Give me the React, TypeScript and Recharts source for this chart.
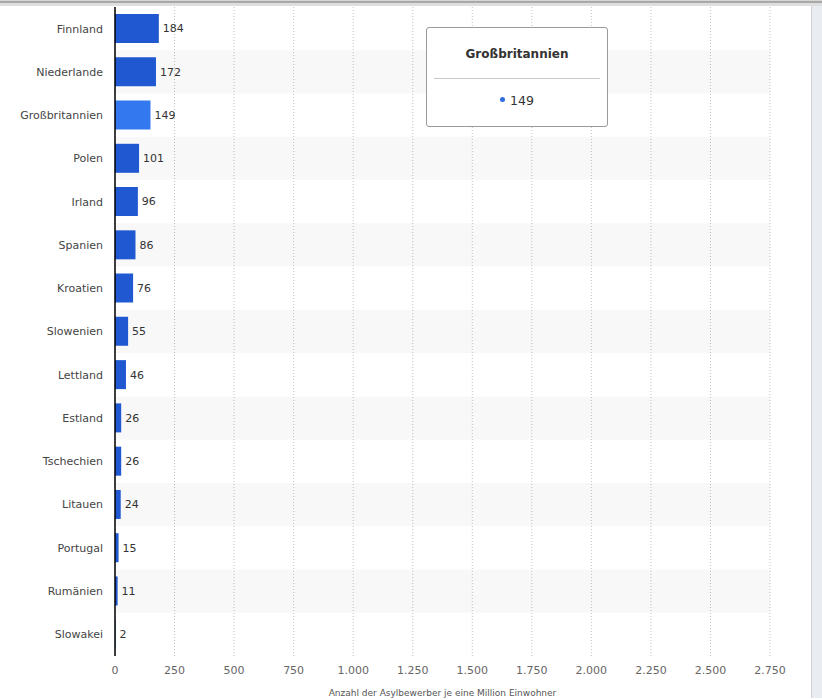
import {
  Bar,
  BarChart,
  CartesianGrid,
  Cell,
  LabelList,
  ReferenceArea,
  Tooltip,
  XAxis,
  YAxis,
} from 'recharts';

const countries = [
  'Finnland',
  'Niederlande',
  'Großbritannien',
  'Polen',
  'Irland',
  'Spanien',
  'Kroatien',
  'Slowenien',
  'Lettland',
  'Estland',
  'Tschechien',
  'Litauen',
  'Portugal',
  'Rumänien',
  'Slowakei',
];

const applicants = [184, 172, 149, 101, 96, 86, 76, 55, 46, 26, 26, 24, 15, 11, 2];

const xTicks = [0, 250, 500, 750, 1000, 1250, 1500, 1750, 2000, 2250, 2500, 2750];

const highlighted = 'Großbritannien';

const data = countries.map((name, i) => ({ name, value: applicants[i] }));

const font = '"DejaVu Sans", Verdana, sans-serif';

const fmt = (v: number) => v.toLocaleString('de-DE');

const TooltipBox = (props: any) => {
  const entry = props.payload && props.payload.length ? props.payload[0].payload : data[2];
  return (
    <div
      style={{
        width: 180,
        height: 98,
        background: '#fff',
        border: '1px solid #9a9a9a',
        borderRadius: 3,
        fontFamily: font,
        color: '#333',
        boxSizing: 'content-box',
      }}
    >
      <div
        style={{
          fontWeight: 'bold',
          fontSize: 12,
          textAlign: 'center',
          paddingTop: 19,
          height: 31,
        }}
      >
        {entry.name}
      </div>
      <div style={{ borderTop: '1px solid #c8c8c8', margin: '0 7px' }} />
      <div style={{ textAlign: 'center', fontSize: 12.5, paddingTop: 14 }}>
        <span
          style={{
            display: 'inline-block',
            width: 5,
            height: 5,
            borderRadius: '50%',
            background: '#2f6fe0',
            marginRight: 5,
            verticalAlign: 'middle',
            position: 'relative',
            top: -2,
          }}
        />
        {fmt(entry.value)}
      </div>
    </div>
  );
};

const App = () => {
  return (
    <div style={{ position: 'absolute', left: 0, top: 0, width: 822, height: 700, background: '#fff' }}>
      <div style={{ position: 'absolute', left: 0, top: 0, width: 822, height: 1, background: '#d6d6d6' }} />
      <div style={{ position: 'absolute', left: 0, top: 1, width: 822, height: 2, background: '#a8a8a8' }} />
      <div style={{ position: 'absolute', left: 0, top: 3, width: 822, height: 3, background: '#dedede' }} />
      <div
        style={{
          position: 'absolute',
          left: 811,
          top: 6,
          width: 11,
          height: 692,
          background: '#e9edf1',
          borderLeft: '1px solid #cfd3d8',
          boxSizing: 'border-box',
        }}
      />
      <BarChart
        width={822}
        height={700}
        data={data}
        layout="vertical"
        margin={{ top: 7, right: 52, bottom: 0, left: 0 }}
        style={{ fontFamily: font }}
      >
        {countries.map((c, i) =>
          i % 2 === 1 ? (
            <ReferenceArea
              key={c}
              y1={c}
              y2={c}
              x1={0}
              x2={2750}
              fill="#000"
              fillOpacity={0.028}
              stroke="none"
            />
          ) : null
        )}
        <CartesianGrid horizontal={false} stroke="#c4c4c4" strokeDasharray="1 2" />
        <XAxis
          type="number"
          domain={[0, 2750]}
          ticks={xTicks}
          tickFormatter={fmt}
          axisLine={false}
          tickLine={false}
          tickSize={0}
          tickMargin={10}
          height={44}
          tick={{ fill: '#666', fontSize: 11 }}
          label={{
            value: 'Anzahl der Asylbewerber je eine Million Einwohner',
            position: 'insideBottom',
            offset: 4,
            fill: '#555',
            fontSize: 9,
          }}
        />
        <YAxis
          type="category"
          dataKey="name"
          width={115}
          axisLine={{ stroke: '#000', strokeWidth: 1.5 }}
          tickLine={false}
          tickSize={0}
          tickMargin={12}
          interval={0}
          tick={{ fill: '#444', fontSize: 11 }}
        />
        <Tooltip
          defaultIndex={2}
          active
          cursor={false}
          isAnimationActive={false}
          position={{ x: 426, y: 27 }}
          content={TooltipBox}
          wrapperStyle={{ outline: 'none' }}
        />
        <Bar dataKey="value" barSize={29} isAnimationActive={false}>
          {data.map((d) => (
            <Cell key={d.name} fill={d.name === highlighted ? '#3478ef' : '#1f58d0'} />
          ))}
          <LabelList
            dataKey="value"
            position="right"
            offset={4}
            fill="#333"
            fontSize={11}
            formatter={(v: any) => fmt(Number(v))}
          />
        </Bar>
      </BarChart>
    </div>
  );
};

export default App;
